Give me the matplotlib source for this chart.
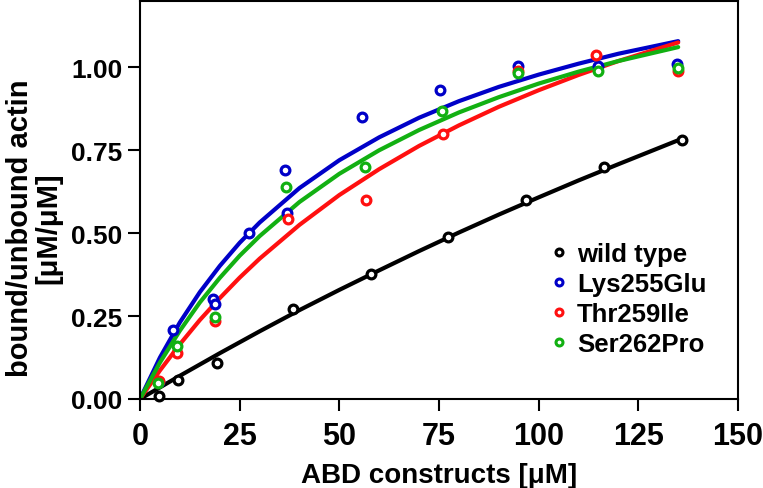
import matplotlib
matplotlib.use("Agg")
import matplotlib.pyplot as plt

# measured points (ABD construct concentration in uM, bound/unbound actin)
wt_x = [4.8, 9.6, 19.3, 38.4, 58.0, 77.3, 96.8, 116.4, 135.9]
wt_y = [0.01, 0.057, 0.108, 0.27, 0.377, 0.488, 0.60, 0.70, 0.78]

lys_x = [4.8, 8.4, 18.3, 18.8, 27.3, 36.3, 36.8, 55.6, 75.2, 94.9, 114.8, 134.8]
lys_y = [0.05, 0.209, 0.301, 0.286, 0.50, 0.691, 0.562, 0.851, 0.931, 1.004, 1.004, 1.011]

thr_x = [4.8, 9.2, 18.8, 37.2, 56.8, 75.9, 94.9, 114.5, 134.9]
thr_y = [0.055, 0.139, 0.236, 0.542, 0.60, 0.80, 0.99, 1.037, 0.99]

ser_x = [4.6, 9.2, 18.8, 36.5, 56.4, 75.7, 94.9, 114.8, 134.9]
ser_y = [0.048, 0.159, 0.246, 0.640, 0.698, 0.868, 0.984, 0.989, 0.998]

# fitted curves
fit_x = [0, 5, 10, 15, 20, 25, 30, 40, 50, 60, 70, 80, 90, 100, 110, 120, 135]
lys_fit = [0, 0.125, 0.231, 0.322, 0.401, 0.471, 0.532, 0.636, 0.720, 0.789,
           0.848, 0.898, 0.941, 0.978, 1.011, 1.041, 1.079]
thr_fit = [0, 0.086, 0.165, 0.238, 0.304, 0.366, 0.423, 0.525, 0.615, 0.693,
           0.763, 0.825, 0.881, 0.931, 0.977, 1.019, 1.075]
ser_fit = [0, 0.110, 0.206, 0.291, 0.365, 0.432, 0.491, 0.594, 0.679, 0.750,
           0.811, 0.864, 0.910, 0.951, 0.987, 1.019, 1.061]
wt_fit_x = [0, 10, 20, 30, 40, 50, 60, 70, 80, 90, 100, 110, 120, 136]
wt_fit = [0, 0.070, 0.138, 0.204, 0.268, 0.329, 0.388, 0.446, 0.502, 0.556,
          0.608, 0.659, 0.708, 0.785]

labels = ['wild type', 'Lys255Glu', 'Thr259Ile', 'Ser262Pro']
colors = ['black', '#0000c8', '#ff1010', '#12b012']

plt.rcParams['font.family'] = ['Liberation Sans', 'DejaVu Sans']
plt.rcParams['font.weight'] = 'bold'

fig = plt.figure(figsize=(7.63, 4.89), dpi=100)
ax = fig.add_axes([140 / 763, 89 / 489, 598 / 763, 398 / 489])

series = [
    (wt_x, wt_y, wt_fit_x, wt_fit),
    (lys_x, lys_y, fit_x, lys_fit),
    (thr_x, thr_y, fit_x, thr_fit),
    (ser_x, ser_y, fit_x, ser_fit),
]

handles = []
for (px, py, fx, fy), lab, col in zip(series, labels, colors):
    ax.plot(fx, fy, '-', color=col, lw=3, solid_capstyle='round', zorder=2)
    ax.plot(px, py, 'o', mfc='white', mec=col, ms=6.3, mew=2.3,
            clip_on=False, zorder=3)
    h, = ax.plot([], [], 'o', mfc='white', mec=col, ms=5, mew=2.2, label=lab)
    handles.append(h)

ax.set_xlim(0, 150)
ax.set_ylim(0, 1.2)
ax.set_xticks([0, 25, 50, 75, 100, 125, 150])
ax.set_yticks([0, 0.25, 0.5, 0.75, 1.0])
ax.set_yticklabels(['0.00', '0.25', '0.50', '0.75', '1.00'])

for s in ax.spines.values():
    s.set_linewidth(1.5)
ax.tick_params(direction='out', length=8.5, width=1.5)
ax.tick_params(axis='y', labelsize=19, pad=4)
ax.tick_params(axis='x', labelsize=22, pad=7)
for t in ax.get_xticklabels():
    t.set_family(['Liberation Sans Narrow', 'Liberation Sans'])
    t.set_fontweight('bold')

ax.set_xlabel('ABD constructs [μM]', fontsize=20, fontweight='bold', labelpad=8)
ax.set_ylabel('bound/unbound actin\n[μM/μM]', fontsize=21, fontweight='bold',
              linespacing=1.0)
ax.yaxis.set_label_coords(-0.13, 0.432)

ax.legend(handles=handles, loc='upper left', bbox_to_anchor=(0.69, 0.395),
          frameon=False, fontsize=18.5, handlelength=0.5, handletextpad=0.45,
          labelspacing=0.24, borderpad=0, borderaxespad=0)

fig.savefig('out.png', dpi=100)
